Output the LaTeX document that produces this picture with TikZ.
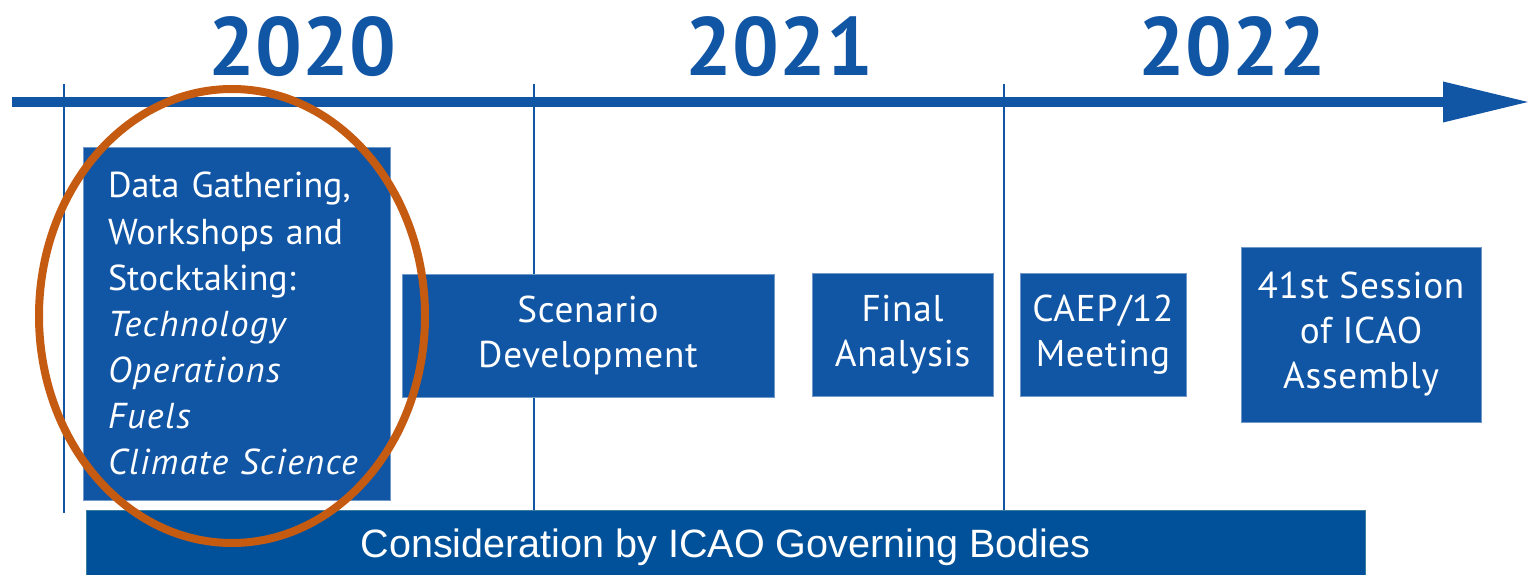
\documentclass[tikz,border=0pt]{standalone}
\usepackage{fontspec}
\setmainfont{PT Sans}
\newfontfamily\widefont[LetterSpace=2]{PT Sans}
\newfontfamily\listfont[ItalicFeatures={LetterSpace=4}]{PT Sans}
\newfontfamily\arialfont{Liberation Sans}
\usetikzlibrary{arrows.meta,positioning}

\definecolor{icaoblue}{RGB}{17,85,165}
\definecolor{bodyblue}{RGB}{0,81,154}
\definecolor{bodyedge}{RGB}{58,125,160}
\definecolor{ringorange}{RGB}{197,90,17}

\tikzset{
	year/.style={text=icaoblue,font=\fontsize{47}{47}\selectfont\bfseries},
	stage/.style={fill=icaoblue,draw=icaoblue!60!white,line width=0.3pt,text=white,inner sep=0pt,
		align=center,font=\widefont\fontsize{21.2}{25.6}\selectfont},
	divider/.style={icaoblue,line width=0.04cm}
}

\begin{document}
\begin{tikzpicture}

	\useasboundingbox [fill=white] (0,0) rectangle (30.62,-11.5);

	\node [year] at (6.05,-0.94)	(y_2020)	{2020};
	\node [year] at (15.59,-0.94)	(y_2021)	{2021};
	\node [year] at (24.65,-0.94)	(y_2022)	{2022};

	\coordinate (t_start)	at (0.24,-2.04);
	\coordinate (t_end)		at (30.6,-2.04);
	\draw [icaoblue,line width=0.2cm,-{Triangle[length=1.74cm,width=0.76cm]}] (t_start) -- (t_end);

	\foreach \x/\n in {1.28/a,10.68/b,20.08/c} {
		\coordinate (d_\n_top) at (\x,-1.68);
		\coordinate (d_\n_bot) at (\x,-10.26);
		\draw [divider] (d_\n_top) -- (d_\n_bot);
	}

	\node [stage,minimum width=6.14cm,minimum height=7.06cm,text width=5.14cm,align=left,
		font=\listfont\fontsize{20.5}{26.2}\selectfont]
		at (4.73,-6.47)		(s_data)	{Data Gathering,\\Workshops and\\Stocktaking:\\\textit{Technology}\\\textit{Operations}\\\textit{Fuels}\\\textit{Climate Science}};
	\node [stage,minimum width=7.44cm,minimum height=2.46cm]
		at (11.76,-6.71)	(s_scen)	{Scenario\\Development};
	\node [stage,minimum width=3.62cm,minimum height=2.46cm]
		at (18.05,-6.69)	(s_final)	{Final\\Analysis};
	\node [stage,minimum width=3.32cm,minimum height=2.46cm]
		at (22.06,-6.69)	(s_caep)	{CAEP/12\\Meeting};
	\node [stage,minimum width=4.80cm,minimum height=3.50cm]
		at (27.22,-6.69)	(s_assy)	{41st Session\\of ICAO\\Assembly};

	\node [fill=bodyblue,draw=bodyedge,line width=0.5pt,text=white,minimum width=25.58cm,minimum height=1.32cm,
		text depth=0pt,font=\arialfont\fontsize{22.5}{22.5}\selectfont]
		at (14.51,-10.86)	(s_bodies)	{Consideration by ICAO Governing Bodies};

	\draw [ringorange,line width=0.16cm] (4.64,-6.32) ellipse [x radius=3.86cm,y radius=4.54cm];

\end{tikzpicture}
\end{document}
